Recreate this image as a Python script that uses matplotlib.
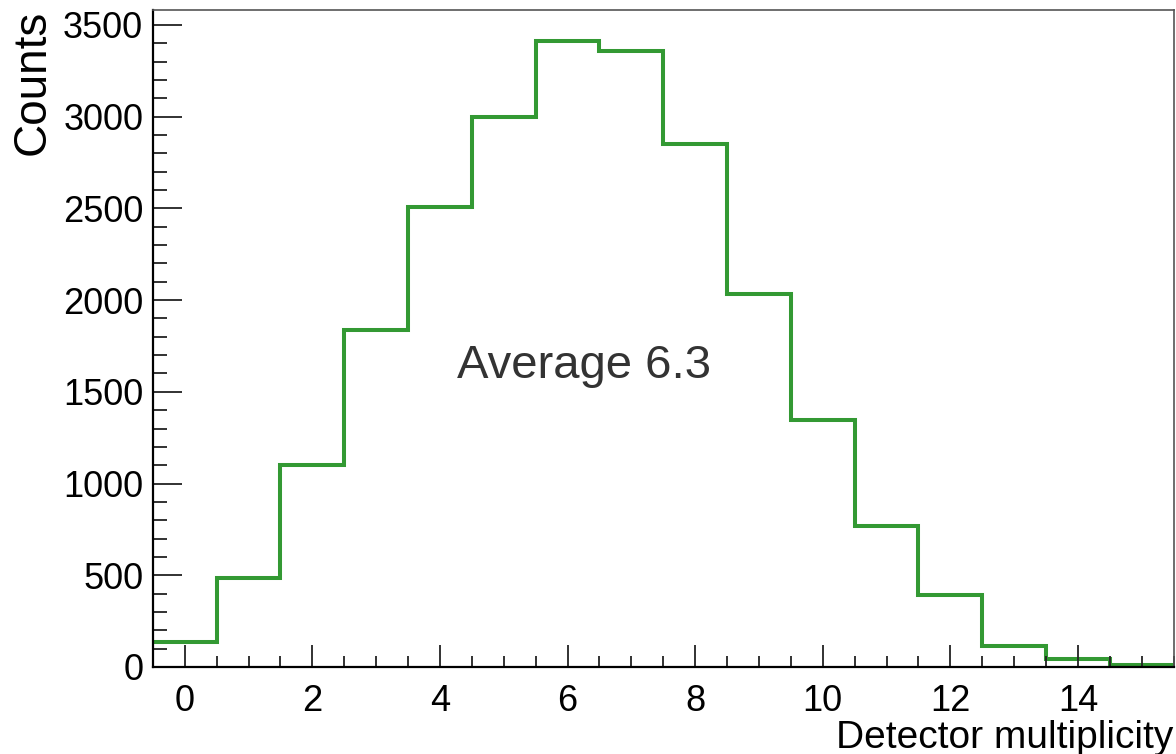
import numpy as np
import matplotlib
matplotlib.use("Agg")
import matplotlib.pyplot as plt
from matplotlib.ticker import MultipleLocator

# multiplicity bins 0..15 and counts
multiplicity = np.arange(0, 16)
counts = [135, 483, 1101, 1836, 2506, 2997, 3412, 3358,
          2853, 2032, 1346, 768, 392, 114, 42, 9]
avg_label = "Average 6.3"

plt.rcParams["font.family"] = ["Liberation Sans", "DejaVu Sans"]

fig = plt.figure(figsize=(11.76, 7.54), dpi=100)
ax = fig.add_axes([0.130, 0.1154, 0.868, 0.8716])

edges = np.append(multiplicity - 0.5, multiplicity[-1] + 0.5)
ax.stairs(counts, edges, baseline=None, color="#339933", lw=2.9)

ax.set_xlim(-0.5, 15.5)
ax.set_ylim(0, max(counts) * 1.05)

ax.xaxis.set_major_locator(MultipleLocator(2))
ax.xaxis.set_minor_locator(MultipleLocator(0.5))
ax.yaxis.set_major_locator(MultipleLocator(500))
ax.yaxis.set_minor_locator(MultipleLocator(100))

ax.tick_params(axis="both", which="both", direction="in", top=False, right=False,
               labelsize=26, width=1.3, color="#222222")
ax.tick_params(axis="y", which="major", length=21, pad=7)
ax.tick_params(axis="y", which="minor", length=10)
ax.tick_params(axis="x", which="major", length=16, pad=12)
ax.tick_params(axis="x", which="minor", length=8)

for side in ("left", "bottom"):
    ax.spines[side].set_linewidth(1.6)
for side in ("top", "right"):
    ax.spines[side].set_linewidth(1.2)
    ax.spines[side].set_color("#555555")

ax.set_ylabel("Counts", fontsize=33, loc="top", labelpad=6)
ax.set_xlabel("Detector multiplicity", fontsize=28, loc="right", labelpad=1)

ax.text(4.26, 1575, avg_label, fontsize=34, color="#333333",
        ha="left", va="baseline")

fig.savefig("out.png", dpi=100)
